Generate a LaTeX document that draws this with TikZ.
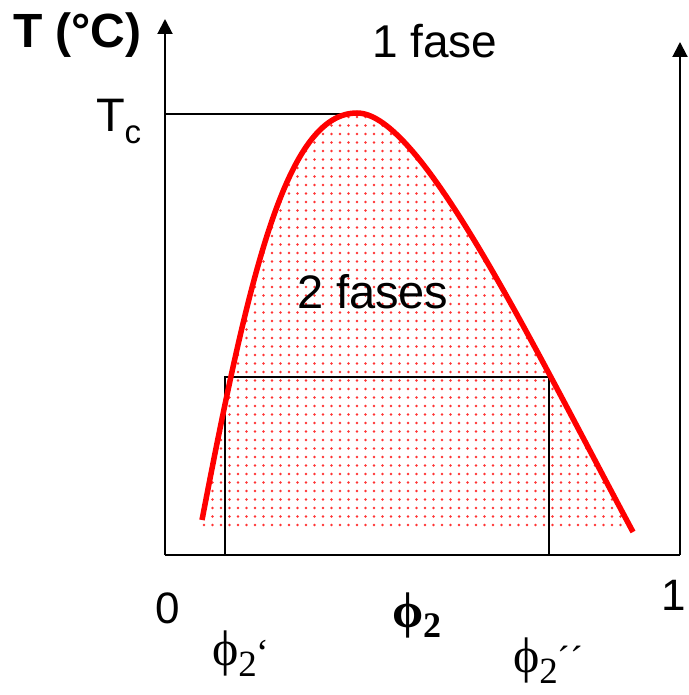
\documentclass[tikz,border=0pt]{standalone}
\usepackage{fontspec}
\setmainfont{Liberation Sans}
\newfontfamily\phifont{Liberation Serif}
\usetikzlibrary{arrows.meta,patterns.meta}
\tikzset{
  axis/.style={line width=2pt,-{Triangle[width=15pt,length=15pt]}},
  thinline/.style={line width=1.6pt},
  curve/.style={draw=red,line width=5.5pt},
  lbl/.style={inner sep=0pt,outer sep=0pt,anchor=base west},
}
\newcommand{\fsz}[1]{\fontsize{#1}{#1}\selectfont}
\newcommand{\binodal}{(202,520) .. controls (250,270) and (287,113) .. (357,113) .. controls (420,113) and (526,332) .. (633,532)}
\begin{document}
\begin{tikzpicture}[x=1pt,y=-1pt]
\useasboundingbox (0,0) rectangle (688,695);
% coordinates
\coordinate (O) at (165,555);
\coordinate (Ytop) at (165,19);
\coordinate (Xend) at (680,555);
\coordinate (Rtop) at (680,42);
\coordinate (Tc) at (165,114);
\coordinate (Peak) at (357,114);
\coordinate (A) at (225,555);
\coordinate (B) at (225,377);
\coordinate (C) at (549,377);
\coordinate (D) at (549,555);
% dotted two-phase region
\path[pattern={Dots[distance=8.5pt,radius=1.3pt]},pattern color=red!80]
  \binodal -- (633,527) -- (202,527) -- cycle;
% axes
\draw[line width=2pt] (O) -- (Xend);
\draw[axis] (O) -- (Ytop);
\draw[axis] (Xend) -- (Rtop);
\draw[line width=2pt] (Tc) -- (Peak);
% tie-line rectangle
\draw[thinline] (A) -- (B) -- (C) -- (D);
% binodal curve
\draw[curve] \binodal;
% labels
\node[lbl] (ylab) at (13,48) {\fsz{48}\bfseries T (°C)};
\node[lbl] (onef) at (372,58) {\fsz{46}1 fase};
\node[lbl] (twof) at (297,308) {\fsz{47}2 fases};
\node[lbl] (tc) at (96,132) {\fsz{47}T\lower12pt\hbox{\fsz{33}c}};
\node[lbl] (zero) at (155,623) {\fsz{44}0};
\node[lbl] (one) at (661,610) {\fsz{44}1};
\node[lbl] (phim) at (392,627) {\phifont\bfseries\fsz{50}ϕ\lower10pt\hbox{\fsz{36}2}};
\node[lbl] (phia) at (212,665) {\phifont\fsz{50}ϕ\lower11pt\hbox{\fsz{37}2}\fsz{38}‘};
\node[lbl] (phib) at (513,672) {\phifont\fsz{50}ϕ\lower11pt\hbox{\fsz{37}2}\fsz{38}´´};
\end{tikzpicture}
\end{document}
